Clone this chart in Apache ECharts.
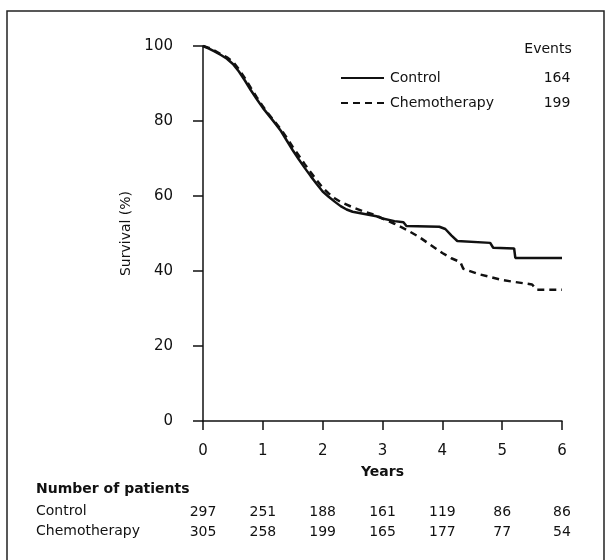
<!DOCTYPE html>
<html>
<head>
<meta charset="utf-8">
<script src="https://cdn.jsdelivr.net/npm/echarts@6/dist/echarts.min.js"></script>
<style>html,body{margin:0;padding:0;background:#fff;}#c{width:613px;height:560px;}</style>
</head>
<body>
<div id="c"></div>
<script>
var seriesNames = ['Control', 'Chemotherapy'];
var events = [164, 199];
var yearTicks = [0, 1, 2, 3, 4, 5, 6];
var patientsControl = [297, 251, 188, 161, 119, 86, 86];
var patientsChemo = [305, 258, 199, 165, 177, 77, 54];

var controlTimes = [0, 0.1, 0.2, 0.3, 0.4, 0.5, 0.6, 0.7, 0.8, 0.9, 1.0, 1.1, 1.2, 1.3, 1.4, 1.5, 1.6, 1.7, 1.8, 1.9, 2.0, 2.1, 2.2, 2.3, 2.4, 2.5, 2.7, 2.9, 3.0, 3.2, 3.35, 3.4, 3.95, 4.05, 4.15, 4.25, 4.8, 4.85, 5.2, 5.22, 6.0];
var controlSurv  = [100, 99.3, 98.5, 97.6, 96.6, 95.2, 93.2, 90.8, 88.2, 85.8, 83.5, 81.5, 79.5, 77.4, 74.8, 72.2, 69.8, 67.5, 65.3, 63.2, 61.2, 59.8, 58.5, 57.3, 56.4, 55.8, 55.2, 54.6, 54, 53.3, 53, 52, 51.8, 51.2, 49.5, 48, 47.5, 46.2, 46, 43.5, 43.5];

var chemoTimes = [0, 0.1, 0.2, 0.3, 0.4, 0.5, 0.6, 0.7, 0.8, 0.9, 1.0, 1.1, 1.2, 1.3, 1.4, 1.5, 1.6, 1.7, 1.8, 1.9, 2.0, 2.1, 2.2, 2.3, 2.5, 2.7, 2.9, 3.0, 3.2, 3.4, 3.6, 3.8, 4.0, 4.15, 4.3, 4.35, 4.6, 4.8, 5.0, 5.2, 5.5, 5.58, 6.0];
var chemoSurv  = [100, 99.5, 98.7, 97.8, 97, 95.8, 93.8, 91.4, 88.8, 86.3, 83.9, 81.8, 79.8, 77.8, 75.5, 73.1, 70.8, 68.5, 66.3, 64.2, 62.2, 60.7, 59.4, 58.4, 57, 55.8, 54.8, 54, 52.6, 51, 49.2, 47, 44.8, 43.4, 42.4, 40.6, 39.2, 38.4, 37.6, 37.1, 36.4, 35, 35];

function pairs(t, v) { return t.map(function (x, i) { return [x, v[i]]; }); }

var FONT = 'DejaVu Sans';
var chart = echarts.init(document.getElementById('c'), null, { renderer: 'canvas' });

function countAxis(arr, margin) {
  return {
    type: 'value', min: 0, max: 6, interval: 1, position: 'bottom',
    axisLine: { show: false }, axisTick: { show: false }, splitLine: { show: false },
    axisLabel: {
      margin: margin, color: '#111', fontFamily: FONT, fontSize: 14,
      formatter: function (val) { var i = yearTicks.indexOf(Math.round(val)); return i >= 0 ? String(arr[i]) : ''; }
    }
  };
}

chart.setOption({
  animation: false,
  backgroundColor: '#fff',
  grid: { left: 203, right: 51, top: 46, bottom: 139 },
  title: {
    text: 'Events', left: 543, top: 37, textAlign: 'center',
    textStyle: { fontFamily: FONT, fontSize: 14, fontWeight: 'normal', color: '#111' }
  },
  legend: {
    orient: 'vertical', left: 335, top: 66, itemWidth: 43, itemHeight: 14, itemGap: 11,
    data: seriesNames,
    itemStyle: { opacity: 0 },
    formatter: function (name) { return '{n|' + name + '}{e|' + events[seriesNames.indexOf(name)] + '}'; },
    textStyle: {
      fontFamily: FONT, fontSize: 14, color: '#111',
      rich: {
        n: { width: 154, padding: [0, 0, 0, 1], fontFamily: FONT, fontSize: 14, color: '#111' },
        e: { width: 26, align: 'center', fontFamily: FONT, fontSize: 14, color: '#111' }
      }
    }
  },
  xAxis: [
    {
      type: 'value', min: 0, max: 6, interval: 1, offset: 5,
      name: 'Years', nameLocation: 'middle', nameGap: 39,
      nameTextStyle: { fontFamily: FONT, fontSize: 14, fontWeight: 'bold', color: '#111' },
      axisLine: { lineStyle: { color: '#111', width: 1.5 } },
      axisTick: { show: true, inside: false, length: 9, lineStyle: { color: '#111', width: 1.5 } },
      axisLabel: { margin: 18, color: '#111', fontFamily: FONT, fontSize: 15 },
      splitLine: { show: false }
    },
    countAxis(patientsControl, 84),
    countAxis(patientsChemo, 104)
  ],
  yAxis: {
    type: 'value', min: 0, max: 100, interval: 20, offset: 6,
    name: 'Survival (%)', nameLocation: 'middle', nameGap: 62,
    nameTextStyle: { fontFamily: FONT, fontSize: 14, color: '#111' },
    axisLine: { show: true, lineStyle: { color: '#111', width: 1.5 } },
    axisTick: { show: true, inside: false, length: 10, lineStyle: { color: '#111', width: 1.5 } },
    axisLabel: { margin: 24, color: '#111', fontFamily: FONT, fontSize: 15 },
    splitLine: { show: false }
  },
  series: [
    {
      name: seriesNames[0], type: 'line', symbol: 'none', xAxisIndex: 0,
      data: pairs(controlTimes, controlSurv),
      lineStyle: { color: '#111', width: 2.5, type: 'solid' },
      itemStyle: { color: '#111' }
    },
    {
      name: seriesNames[1], type: 'line', symbol: 'none', xAxisIndex: 0,
      data: pairs(chemoTimes, chemoSurv),
      lineStyle: { color: '#111', width: 2.5, type: [7, 5] },
      itemStyle: { color: '#111' }
    }
  ],
  graphic: [
    { type: 'rect', shape: { x: 7, y: 11, width: 597, height: 570 }, style: { fill: 'none', stroke: '#222', lineWidth: 1.5 }, silent: true },
    { type: 'text', left: 36, top: 482, style: { text: 'Number of patients', fontFamily: FONT, fontSize: 14, fontWeight: 'bold', fill: '#111' } },
    { type: 'text', left: 36, top: 504, style: { text: seriesNames[0], fontFamily: FONT, fontSize: 14, fill: '#111' } },
    { type: 'text', left: 36, top: 524, style: { text: seriesNames[1], fontFamily: FONT, fontSize: 14, fill: '#111' } }
  ]
});
</script>
</body>
</html>
